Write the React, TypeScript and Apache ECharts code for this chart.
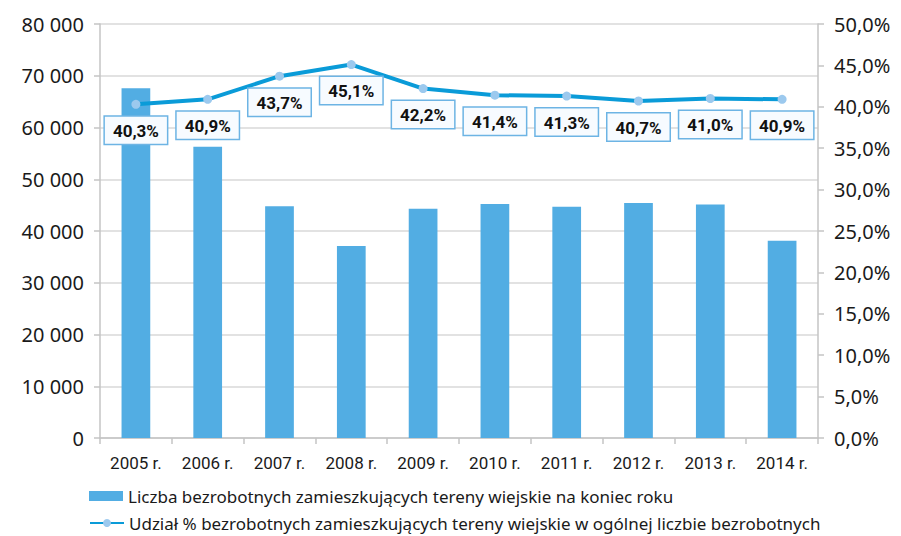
import React, { useEffect, useRef } from "react";
import * as echarts from "echarts";

const categories = ["2005 r.", "2006 r.", "2007 r.", "2008 r.", "2009 r.", "2010 r.", "2011 r.", "2012 r.", "2013 r.", "2014 r."];
const unemployedRural = [67600, 56300, 44800, 37100, 44300, 45200, 44700, 45400, 45100, 38100];
const ruralShare = [40.3, 40.9, 43.7, 45.1, 42.2, 41.4, 41.3, 40.7, 41.0, 40.9];
const barName = "Liczba bezrobotnych zamieszkujących tereny wiejskie na koniec roku";
const lineName = "Udział % bezrobotnych zamieszkujących tereny wiejskie w ogólnej liczbie bezrobotnych";

const fmtPct = (v: number) => v.toFixed(1).replace(".", ",") + "%";
const fmtThousands = (v: number) => String(v).replace(/\B(?=(\d{3})+(?!\d))/g, " ");

export default function App() {
  const ref = useRef<HTMLDivElement>(null);
  useEffect(() => {
    if (!ref.current) return;
    const chart = echarts.init(ref.current, undefined, { renderer: "svg" });
    const axisFont = { fontFamily: "Noto Sans", fontSize: 20, color: "#1a1a1a" };
    const legendText = { fontFamily: "Noto Sans", fontSize: 17, color: "#1a1a1a", lineHeight: 18 };
    chart.setOption({
      animation: false,
      backgroundColor: "#ffffff",
      grid: { left: 100, right: 83, top: 24, bottom: 98, containLabel: false },
      legend: [
        {
          left: 89,
          top: 487,
          itemWidth: 34,
          itemHeight: 10,
          padding: 0,
          textStyle: legendText,
          data: [{ name: barName, icon: "rect" }],
        },
        {
          left: 89,
          top: 514,
          itemWidth: 34,
          itemHeight: 10,
          padding: 0,
          textStyle: legendText,
          data: [{ name: lineName }],
        },
      ],
      xAxis: {
        type: "category",
        data: categories,
        axisLine: { lineStyle: { color: "#c4c4c4", width: 1.5 } },
        axisTick: { show: true, length: 6, lineStyle: { color: "#c4c4c4", width: 1.5 } },
        axisLabel: { fontFamily: "Roboto", fontSize: 17, color: "#1a1a1a", margin: 16, interval: 0 },
      },
      yAxis: [
        {
          type: "value",
          min: 0,
          max: 80000,
          interval: 10000,
          axisLine: { show: true, lineStyle: { color: "#c4c4c4", width: 1.5 } },
          axisTick: { show: true, length: 6, lineStyle: { color: "#c4c4c4", width: 1.5 } },
          splitLine: { lineStyle: { color: "#d9d9d9", width: 1.5 } },
          axisLabel: { ...axisFont, margin: 16, formatter: (v: number) => fmtThousands(v) },
        },
        {
          type: "value",
          min: 0,
          max: 50,
          interval: 5,
          position: "right",
          axisLine: { show: true, lineStyle: { color: "#c4c4c4", width: 1.5 } },
          axisTick: { show: true, length: 6, lineStyle: { color: "#c4c4c4", width: 1.5 } },
          splitLine: { show: false },
          axisLabel: { ...axisFont, margin: 16, formatter: (v: number) => fmtPct(v) },
        },
      ],
      series: [
        {
          name: barName,
          type: "bar",
          data: unemployedRural,
          barWidth: "40%",
          itemStyle: { color: "#52ade3" },
        },
        {
          name: lineName,
          type: "line",
          yAxisIndex: 1,
          data: ruralShare,
          symbol: "circle",
          symbolSize: 9,
          itemStyle: { color: "#9cc9ee" },
          lineStyle: { color: "#0a9bd8", width: 4 },
          label: {
            show: true,
            position: "bottom",
            distance: 8,
            formatter: (p: any) => fmtPct(p.value),
            fontFamily: "Roboto",
            fontWeight: "bold",
            fontSize: 17,
            lineHeight: 20,
            color: "#111111",
            backgroundColor: "#f7fbff",
            borderColor: "#6db4e4",
            borderWidth: 1.5,
            padding: [4, 8, 3, 8],
          },
          z: 3,
        },
      ],
    });
    return () => chart.dispose();
  }, []);
  return <div ref={ref} style={{ position: "fixed", left: 0, top: 0, width: 901, height: 536 }} />;
}
